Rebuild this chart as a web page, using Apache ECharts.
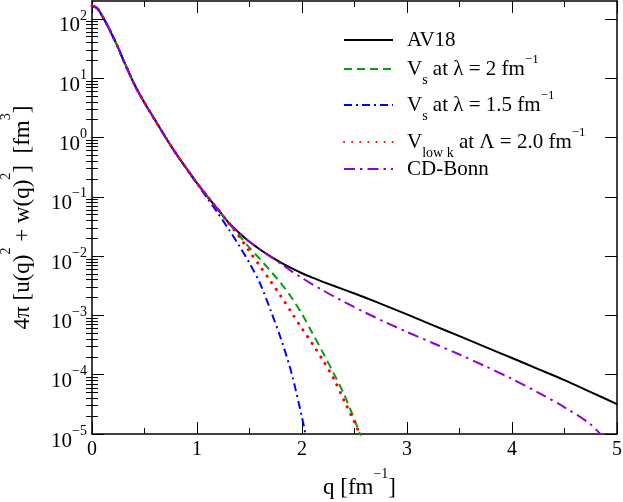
<!DOCTYPE html>
<html><head><meta charset="utf-8">
<script src="https://cdn.jsdelivr.net/npm/echarts@6/dist/echarts.min.js"></script>
<style>html,body{margin:0;padding:0;background:#fff}#c{width:623px;height:502px}</style>
</head><body><div id="c"></div>
<script>
// ---- data ----
const qAV18 = [0,0.05,0.1,0.15,0.2,0.25,0.3,0.4,0.5,0.6,0.7,0.8,0.9,1.0,1.1,1.2,1.3,1.4,1.5,1.6,1.7,1.8,1.9,2.0,2.1,2.2,2.4,2.6,2.8,3.0,3.25,3.5,3.75,4.0,4.25,4.5,4.75,5.0];
const yAV18 = [166,151,110,76,50,32.5,20,8.1,3.84,1.97,1.01,0.536,0.300,0.170,0.101,0.061,0.037,0.0248,0.0174,0.0129,0.00989,0.00776,0.00624,0.00513,0.00432,0.00367,0.00272,0.0020,0.00145,0.00104,0.00068,0.000447,0.000292,0.000191,0.0001245,0.000081,0.000051,0.000032];

const qVs2 = [0,0.05,0.1,0.15,0.2,0.25,0.3,0.4,0.5,0.6,0.7,0.8,0.9,1.0,1.1,1.2,1.3,1.4,1.5,1.6,1.7,1.8,1.9,2.0,2.1,2.2,2.3,2.4,2.5,2.6];
const yVs2 = [166,151,110,76,50,32.5,20,8.1,3.84,1.97,1.01,0.536,0.300,0.170,0.101,0.061,0.0363,0.0224,0.0138,0.0089,0.0056,0.00347,0.0020,0.00105,0.00050,0.000234,0.000107,0.000047,0.0000174,0.0000060];

const qVs15 = [0,0.05,0.1,0.15,0.2,0.25,0.3,0.4,0.5,0.6,0.7,0.8,0.9,1.0,1.1,1.2,1.3,1.4,1.5,1.6,1.7,1.8,1.9,2.0,2.05];
const yVs15 = [166,151,110,76,50,32.5,20,8.1,3.84,1.97,1.01,0.536,0.300,0.166,0.0933,0.0525,0.0288,0.0151,0.0076,0.00347,0.00123,0.00040,0.000107,0.000019,0.0000071];

const qVlowk = [0,0.05,0.1,0.15,0.2,0.25,0.3,0.4,0.5,0.6,0.7,0.8,0.9,1.0,1.1,1.2,1.3,1.4,1.5,1.6,1.7,1.8,1.9,2.0,2.1,2.2,2.3,2.4,2.5,2.6];
const yVlowk = [166,151,110,76,50,32.5,20,8.1,3.84,1.97,1.01,0.536,0.300,0.170,0.101,0.061,0.0363,0.0216,0.0120,0.00676,0.0038,0.00209,0.00112,0.00060,0.00033,0.000174,0.000087,0.000037,0.0000158,0.0000063];

const qCDBonn = [0,0.05,0.1,0.15,0.2,0.25,0.3,0.4,0.5,0.6,0.7,0.8,0.9,1.0,1.1,1.2,1.3,1.4,1.5,1.6,1.7,1.8,1.9,2.0,2.2,2.4,2.6,2.8,3.0,3.25,3.5,3.75,4.0,4.25,4.5,4.75,4.9];
const yCDBonn = [166,151,110,76,50,32.5,20,8.1,3.84,1.97,1.01,0.536,0.300,0.170,0.101,0.061,0.037,0.0248,0.0174,0.0129,0.00977,0.00741,0.00556,0.00427,0.00263,0.00170,0.00112,0.00076,0.000525,0.000339,0.000219,0.000138,0.000085,0.000050,0.0000282,0.0000145,0.0000076];

const xTicks = [0,1,2,3,4,5];
const yMajorTicks = [1e-5,1e-4,1e-3,1e-2,1e-1,1,10,100];
const yExponents = [-5,-4,-3,-2,-1,0,1,2];
const legendLabels = {
  AV18: '{b|AV18}',
  Vs2: '{b|V}{sub|s}{b| at λ = 2 fm}{sup|−1}',
  Vs15: '{b|V}{sub|s}{b| at λ = 1.5 fm}{sup|−1}',
  Vlowk: '{b|V}{sub|low k}{b| at Λ = 2.0 fm}{sup|−1}',
  CDBonn: '{b|CD-Bonn}'
};

// minor tick positions (2..9 x 10^n)
const yMinorTicks = [];
for (let e = -5; e <= 2; e++) for (let k = 2; k <= 9; k++) { const v = k * Math.pow(10, e); if (v < 200) yMinorTicks.push(v); }

const FONT = 'Liberation Serif';
const pairs = (qs, ys) => qs.map((q, i) => [q, ys[i]]);

const chart = echarts.init(document.getElementById('c'), null, {renderer: 'canvas'});

const yBase = {
  type: 'log', logBase: 10, min: 1e-5, max: 200,
  splitLine: {show: false}, minorSplitLine: {show: false}
};
const tickLine = {color: '#000', width: 1};

const option = {
  backgroundColor: '#fff',
  animation: false,
  grid: {left: 92, right: 6, top: 1, bottom: 68, containLabel: false, outerBoundsMode: 'none'},
  xAxis: [
    {
      type: 'value', min: 0, max: 5, interval: 1, position: 'bottom',
      axisLine: {show: true, onZero: false, lineStyle: {color: '#000', width: 1.5}},
      axisTick: {show: true, inside: true, length: 12, lineStyle: tickLine},
      minorTick: {show: true, splitNumber: 2, length: 6, lineStyle: tickLine},
      axisLabel: {show: true, margin: 6, color: '#000', fontFamily: FONT, fontSize: 20,
        formatter: v => xTicks.includes(v) ? String(v) : ''},
      splitLine: {show: false}, minorSplitLine: {show: false},
      name: '{b|q [fm}{s|−1}{b|]}',
      nameLocation: 'middle', nameGap: 32.5,
      nameTextStyle: {
        color: '#000', fontFamily: FONT, padding: [0, 0, 0, 10],
        rich: {
          b: {fontSize: 23, fontFamily: FONT, color: '#000', padding: [10, 0, 0, 0]},
          s: {fontSize: 14, fontFamily: FONT, color: '#000', padding: [0, 0, 18, 0]}
        }
      }
    },
    {
      type: 'value', min: 0, max: 5, interval: 1, position: 'top',
      axisLine: {show: true, onZero: false, lineStyle: {color: '#000', width: 1.5}},
      axisTick: {show: true, inside: true, length: 12, lineStyle: tickLine},
      minorTick: {show: true, splitNumber: 2, length: 6, lineStyle: tickLine},
      axisLabel: {show: false},
      splitLine: {show: false}, minorSplitLine: {show: false}
    }
  ],
  yAxis: [
    Object.assign({}, yBase, {
      position: 'left',
      axisLine: {show: true, onZero: false, lineStyle: {color: '#000', width: 1.5}},
      axisTick: {show: true, inside: true, length: 12, lineStyle: tickLine, customValues: yMajorTicks},
      axisLabel: {
        show: true, margin: 5, customValues: yMajorTicks,
        formatter: v => {
          const e = yExponents[yMajorTicks.findIndex(t => Math.abs(Math.log10(t) - Math.log10(v)) < 1e-6)];
          return '{b|10}{s|' + (e < 0 ? '−' + (-e) : e) + '}';
        },
        rich: {
          b: {fontSize: 21, fontFamily: FONT, color: '#000', padding: [14, 0, 0, 0]},
          s: {fontSize: 14, fontFamily: FONT, color: '#000', padding: [0, 0, 6, 0]}
        }
      },
      name: '{b|4π [u(q)}{s|2}{b| + w(q)}{s|2}{b|]  [fm}{s|3}{b|]}',
      nameLocation: 'middle', nameGap: 55.5,
      nameTextStyle: {
        color: '#000', fontFamily: FONT,
        rich: {
          b: {fontSize: 23, fontFamily: FONT, color: '#000', padding: [10, 0, 0, 0]},
          s: {fontSize: 14, fontFamily: FONT, color: '#000', padding: [0, 0, 23, 0]}
        }
      }
    }),
    Object.assign({}, yBase, {
      position: 'left',
      axisLine: {show: false},
      axisTick: {show: true, inside: true, length: 6, lineStyle: tickLine, customValues: yMinorTicks},
      axisLabel: {show: false}
    }),
    Object.assign({}, yBase, {
      position: 'right',
      axisLine: {show: true, onZero: false, lineStyle: {color: '#000', width: 1.5}},
      axisTick: {show: true, inside: true, length: 12, lineStyle: tickLine, customValues: yMajorTicks},
      axisLabel: {show: false}
    }),
    Object.assign({}, yBase, {
      position: 'right',
      axisLine: {show: false},
      axisTick: {show: true, inside: true, length: 6, lineStyle: tickLine, customValues: yMinorTicks},
      axisLabel: {show: false}
    })
  ],
  legend: [
    ['AV18', 22], ['Vs2', 51], ['Vs15', 87], ['Vlowk', 124], ['CDBonn', 151]
  ].map(([n, t]) => ({
    data: [n], left: 343, top: t, padding: 0, orient: 'horizontal',
    itemWidth: 49, itemHeight: 0.4, selectedMode: false,
    itemStyle: {color: 'rgba(0,0,0,0)', borderWidth: 0, opacity: 0},
    formatter: name => legendLabels[name],
    textStyle: {
      color: '#000', fontFamily: FONT, fontSize: 21, lineHeight: 36, padding: [0, 0, 0, 9],
      rich: {
        b: {fontSize: 21, fontFamily: FONT, color: '#000'},
        sub: {fontSize: 14, fontFamily: FONT, color: '#000', padding: [22, 0, 0, 0]},
        sup: {fontSize: 13, fontFamily: FONT, color: '#000', padding: [0, 0, 19, 0]}
      }
    }
  })),
  series: [
    {name: 'AV18', data: pairs(qAV18, yAV18), color: '#000000',
      lineStyle: {color: '#000000', width: 2, type: 'solid'}},
    {name: 'Vs2', data: pairs(qVs2, yVs2), color: '#0c9c0c',
      lineStyle: {color: '#0c9c0c', width: 2, type: [8, 5]}},
    {name: 'Vs15', data: pairs(qVs15, yVs15), color: '#0000ff',
      lineStyle: {color: '#0000ff', width: 2, type: [8, 4, 2, 4]}},
    {name: 'Vlowk', data: pairs(qVlowk, yVlowk), color: '#ff0000',
      lineStyle: {color: '#ff0000', width: 3, type: [0.1, 8], cap: 'round'}},
    {name: 'CDBonn', data: pairs(qCDBonn, yCDBonn), color: '#9400d3',
      lineStyle: {color: '#9400d3', width: 2, type: [11, 5, 2.5, 5]}}
  ].map(s => Object.assign({
    type: 'line', xAxisIndex: 0, yAxisIndex: 0, symbol: 'none', showSymbol: false,
    smooth: 0.3, clip: true
  }, s))
};
chart.setOption(option);
</script></body></html>
